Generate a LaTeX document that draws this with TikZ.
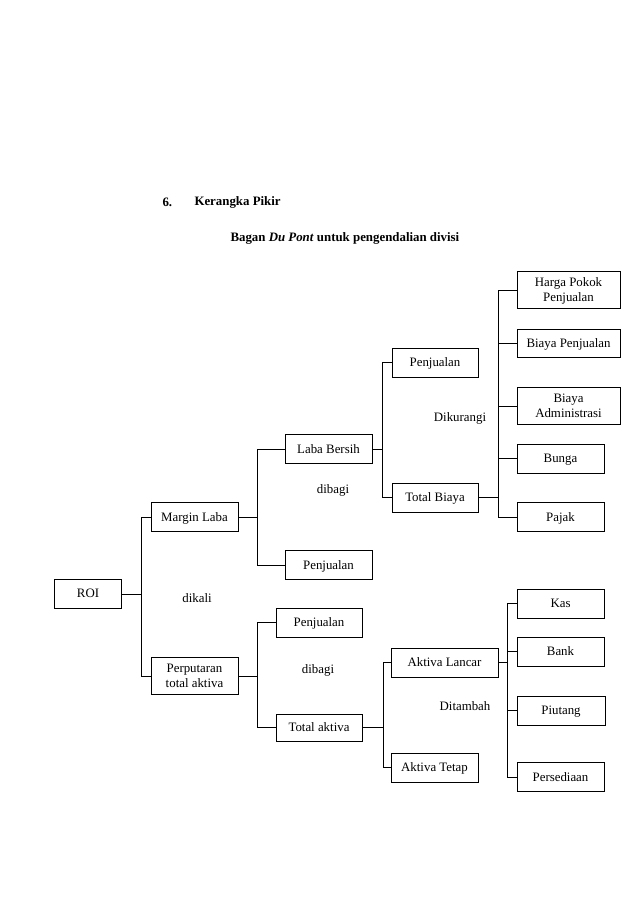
\documentclass[tikz,border=0pt,12pt]{standalone}
\usepackage{fontspec}
\setmainfont{Liberation Serif}
\usepackage{tikz}

\begin{document}
\begin{tikzpicture}[x=0.9326pt,y=-0.9326pt,
  kotak/.style={draw,line width=0.6pt,inner sep=1pt,align=center,minimum height=27pt,text depth=0.5pt},
  garis/.style={line width=0.6pt}]
\useasboundingbox (0,0) rectangle (638,903);

% judul
\node[anchor=west,font=\bfseries] (nomor) at (158,202) {6.};
\node[anchor=west,font=\bfseries] (judul) at (190,202) {Kerangka Pikir};
\node[anchor=west,font=\bfseries] (bagan) at (226,238) {Bagan \textit{Du Pont} untuk pengendalian divisi};

% kotak
\node[kotak,minimum width=63pt] (roi) at (88,594) {ROI};
\node[kotak,minimum width=81pt] (margin) at (194.5,517) {Margin Laba};
\node[kotak,minimum width=81pt,minimum height=35pt] (perputaran) at (194.5,676) {Perputaran\\total aktiva};
\node[kotak,minimum width=81pt] (laba) at (328.5,449) {Laba Bersih};
\node[kotak,minimum width=81pt] (penjA) at (328.5,565) {Penjualan};
\node[kotak,minimum width=80pt] (penjB) at (319,622.5) {Penjualan};
\node[kotak,minimum width=80pt,minimum height=25pt] (aktiva) at (319,727.5) {Total aktiva};
\node[kotak,minimum width=80pt] (penjC) at (435,362.5) {Penjualan};
\node[kotak,minimum width=80pt] (biaya) at (435,497.5) {Total Biaya};
\node[kotak,minimum width=96pt,minimum height=35pt] (hpp) at (568.5,290) {Harga Pokok\\Penjualan};
\node[kotak,minimum width=96pt,minimum height=26pt] (bpenj) at (568.5,343) {Biaya Penjualan};
\node[kotak,minimum width=96pt,minimum height=35pt] (badm) at (568.5,406) {Biaya\\Administrasi};
\node[kotak,minimum width=81pt] (bunga) at (560.5,458.5) {Bunga};
\node[kotak,minimum width=81pt] (pajak) at (560.5,517) {Pajak};
\node[kotak,minimum width=100pt] (lancar) at (444.5,662.5) {Aktiva Lancar};
\node[kotak,minimum width=81pt] (tetap) at (434.5,767.5) {Aktiva Tetap};
\node[kotak,minimum width=81pt] (kas) at (560.5,603.5) {Kas};
\node[kotak,minimum width=81pt] (bank) at (560.5,651.5) {Bank};
\node[kotak,minimum width=82pt] (piutang) at (561,710.5) {Piutang};
\node[kotak,minimum width=81pt] (sedia) at (560.5,777) {Persediaan};

% keterangan
\node (dikali) at (197,598) {dikali};
\node (dibagiA) at (333,490) {dibagi};
\node (dibagiB) at (318,670) {dibagi};
\node (dikurangi) at (460,418) {Dikurangi};
\node (ditambah) at (465,706) {Ditambah};

% garis
\draw[garis] (roi.east) -- ++(19,0) coordinate (s1);
\draw[garis] (margin.west) -| (s1) |- (perputaran.west);

\draw[garis] (margin.east) -- ++(19,0) coordinate (s2);
\draw[garis] (laba.west) -| (s2) |- (penjA.west);

\draw[garis] (perputaran.east) -- ++(19,0) coordinate (s3);
\draw[garis] (penjB.west) -| (s3) |- (aktiva.west);

\draw[garis] (laba.east) -- ++(10,0) coordinate (s4);
\draw[garis] (penjC.west) -| (s4) |- (biaya.west);

\draw[garis] (aktiva.east) -- ++(21,0) coordinate (s5);
\draw[garis] (lancar.west) -| (s5) |- (tetap.west);

\draw[garis] (biaya.east) -- ++(20,0) coordinate (s6);
\draw[garis] (hpp.west -| s6) -- (pajak.west -| s6);
\foreach \n in {hpp,bpenj,badm,bunga,pajak}
  \draw[garis] (\n.west) -- (\n.west -| s6);

\draw[garis] (lancar.east) -- ++(9,0) coordinate (s7);
\draw[garis] (kas.west -| s7) -- (sedia.west -| s7);
\foreach \n in {kas,bank,piutang,sedia}
  \draw[garis] (\n.west) -- (\n.west -| s7);
\end{tikzpicture}
\end{document}
